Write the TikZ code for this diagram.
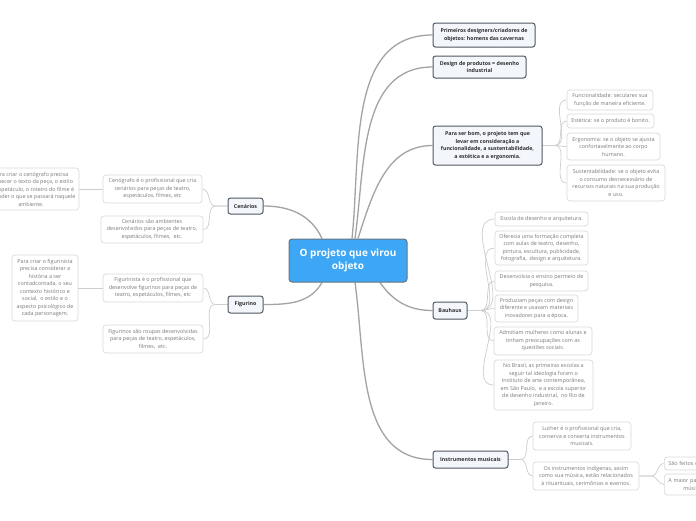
\documentclass[tikz,border=0pt]{standalone}
\usepackage{fontspec}
\setmainfont{Open Sans}
\usetikzlibrary{calc,backgrounds}
\definecolor{trunkc}{HTML}{A3A3A3}
\definecolor{twigc}{HTML}{CDCDCD}
\definecolor{mainborder}{HTML}{505860}
\definecolor{mainfill}{HTML}{F3F7FC}
\definecolor{maintext}{HTML}{2E2E2E}
\definecolor{leafborder}{HTML}{DADADA}
\definecolor{leaftext}{HTML}{7A7A7A}
\definecolor{centrefill}{HTML}{3DA7F6}
\definecolor{centreborder}{HTML}{6A7580}
\begin{document}
\begin{tikzpicture}[x=1pt,y=-1pt,
 mainbox/.style={draw=mainborder, fill=mainfill, line width=1pt, rounded corners=2.5pt, font=\fontsize{5.3}{7.6}\selectfont\bfseries, text=maintext, align=center, inner sep=1pt},
 leafbox/.style={draw=leafborder, fill=white, line width=0.7pt, rounded corners=3pt, font=\fontsize{5.4}{7.5}\selectfont, text=leaftext, align=center, inner sep=1pt},
 centrebox/.style={draw=centreborder, fill=centrefill, line width=1pt, rounded corners=3pt, font=\fontsize{10}{13.5}\selectfont\bfseries, text=white, align=center, inner sep=1pt},
 trunk/.style={draw=trunkc, line width=1.3pt},
 twig/.style={draw=twigc, line width=0.7pt},
 sz/.style 2 args={minimum width=#1pt, minimum height=#2pt},
]
\useasboundingbox (0,0) rectangle (696,520);
\clip (0,0) rectangle (696,520);

% centre
\node[centrebox, sz={118}{43}] (c) at (348,260.5) {O projeto que virou\\objeto};

% right main nodes
\node[mainbox, sz={102}{24}] (p1) at (484,35) {Primeiros designers/criadores de\\objetos: homens das cavernas};
\node[mainbox, sz={93}{22}] (p2) at (479.5,67) {Design de produtos = desenho\\industrial};
\node[mainbox, sz={109}{39}] (p3) at (487.5,145.5) {Para ser bom, o projeto tem que\\levar em consideração a\\funcionalidade, a sustentabilidade,\\a estética e a ergonomia.};
\node[mainbox, sz={34}{17}] (p4) at (450,310.5) {Bauhaus};
\node[mainbox, sz={75}{17}] (p5) at (470.5,459.5) {Instrumentos musicais};

% left main nodes
\node[mainbox, sz={35}{16}] (cen) at (245.5,206) {Cenários};
\node[mainbox, sz={35}{17}] (fig) at (245.5,304.5) {Figurino};

% Para ser bom children
\node[leafbox, sz={86}{20}] (f1) at (610,100) {Funcionalidade: seculares sua\\função de maneira eficiente.};
\node[leafbox, sz={87}{14}] (f2) at (610.5,121) {Estética: se o produto é bonito.};
\node[leafbox, sz={93}{27}] (f3) at (613.5,146.5) {Ergonomia: se o objeto se ajusta\\confortavelmente ao corpo\\humano.};
\node[leafbox, sz={98}{36}] (f4) at (616,183) {Sustentabilidade: se o objeto evita\\o consumo desnecessário de\\recursos naturais na sua produção\\e uso.};

% Bauhaus children
\node[leafbox, sz={93}{14}] (b1) at (541.5,219) {Escola de desenho e arquitetura.};
\node[leafbox, sz={93}{34}] (b2) at (541.5,248) {Oferecia uma formação completa\\com aulas de teatro, desenho,\\pintura, escultura, publicidade,\\fotografia,\ \ design e arquitetura.};
\node[leafbox, sz={93}{20}] (b3) at (541.5,281) {Desenvolvia o ensino permeio de\\pesquisa.};
\node[leafbox, sz={83}{27}] (b4) at (536.5,308.5) {Produziam peças com design\\diferente e usavam materiais\\inovadores para a época.};
\node[leafbox, sz={98}{28}] (b5) at (543,341) {Admitiam mulheres como alunas e\\tinham preocupações com as\\questões sociais.};
\node[leafbox, sz={99}{50}] (b6) at (543.5,385) {No Brasil, as primeiras escolas a\\seguir tal ideologia foram o\\Instituto de arte contemporânea,\\em São Paulo,\ \ e a escola superior\\de desenho industrial,\ \ no Rio de\\Janeiro.};

% Instrumentos children
\node[leafbox, sz={98}{28}] (i1) at (582,436) {Luther é o profissional que cria,\\conserva e conserta instrumentos\\musicais.};
\node[leafbox, sz={106}{28}] (i2) at (586,476) {Os instrumentos indígenas, assim\\como sua música, estão relacionados\\à rituarituais, cerimônias e eventos.};
\node[leafbox, anchor=west, minimum height=13pt, text width=56pt, inner xsep=4pt, align=left] (i3) at (664,463.5) {São feitos c};
\node[leafbox, anchor=west, minimum height=21pt, text width=56pt, inner xsep=4pt, align=left] (i4) at (664,484.5) {A maior pa\\\hspace*{15pt}músi};

% Cenarios children
\node[leafbox, sz={99}{28}] (c1) at (152.5,189) {Cenógrafo é o profissional que cria\\cenários para peças de teatro,\\espetáculos, filmes, etc};
\node[leafbox, sz={102}{27}] (c2) at (152,229.5) {Cenários são ambientes\\desenvolvidos para peças de teatro,\\espetáculos, filmes,\ \ etc.};
\node[leafbox, sz={96}{42}] (c3) at (31,189) {Para criar o cenógrafo precisa\\conhecer o texto da peça, o estilo\\do espetáculo, o roteiro do filme é\\entender o que se passará naquele\\ambiente.};

% Figurino children
\node[leafbox, sz={100}{28}] (d1) at (153,288) {Figurinista é o profissional que\\desenvolve figurinos para peças de\\teatro, espetáculos, filmes, etc};
\node[leafbox, sz={100}{28}] (d2) at (153,339) {Figurinos são roupas desenvolvidas\\para peças de teatro, espetáculos,\\filmes,\ \ etc.};
\node[leafbox, sz={66}{66}] (d3) at (45,288) {Para criar o figurinista\\precisa considerar a\\história a ser\\contadcontada, o seu\\contexto histórico e\\social,\ \ o estilo e o\\aspecto psicológico de\\cada personagem.};

\begin{pgfonlayer}{background}
\fill[white] (0,0) rectangle (696,520);
% trunks
\draw[trunk] ([xshift=4pt]c.north) to[out=84,in=180] (p1.west);
\draw[trunk] ([xshift=7pt]c.north) to[out=82,in=180] (p2.west);
\draw[trunk] ([xshift=10pt]c.north) to[out=72,in=180] (p3.west);
\draw[trunk] ([xshift=32pt]c.south) to[out=-55,in=180] (p4.west);
\draw[trunk] ([xshift=7pt]c.south) to[out=-82,in=180] (p5.west);
\draw[trunk] ([xshift=-26pt]c.north) to[out=115,in=0] (cen.east);
\draw[trunk] ([xshift=-26pt]c.south) to[out=-120,in=0] (fig.east);
% twigs right
\foreach \ch in {f1,f2,f3,f4}
  \draw[twig] (p3.east) -- ([xshift=12pt]p3.east) to[out=0,in=180] (\ch.west);
\foreach \ch in {b1,b2,b3,b4,b5,b6}
  \draw[twig] (p4.east) -- ([xshift=13pt]p4.east) to[out=0,in=180] (\ch.west);
\foreach \ch in {i1,i2}
  \draw[twig] (p5.east) -- ([xshift=12pt]p5.east) to[out=0,in=180] (\ch.west);
\foreach \ch in {i3,i4}
  \draw[twig] (i2.east) -- ([xshift=12pt]i2.east) to[out=0,in=180] (\ch.west);
% twigs left
\foreach \ch in {c1,c2}
  \draw[twig] (cen.west) -- ([xshift=-12pt]cen.west) to[out=180,in=0] (\ch.east);
\foreach \ch in {d1,d2}
  \draw[twig] (fig.west) -- ([xshift=-12pt]fig.west) to[out=180,in=0] (\ch.east);
\draw[twig] (c1.west) -- (c3.east);
\draw[twig] (d1.west) -- (d3.east);
\end{pgfonlayer}
\end{tikzpicture}
\end{document}
